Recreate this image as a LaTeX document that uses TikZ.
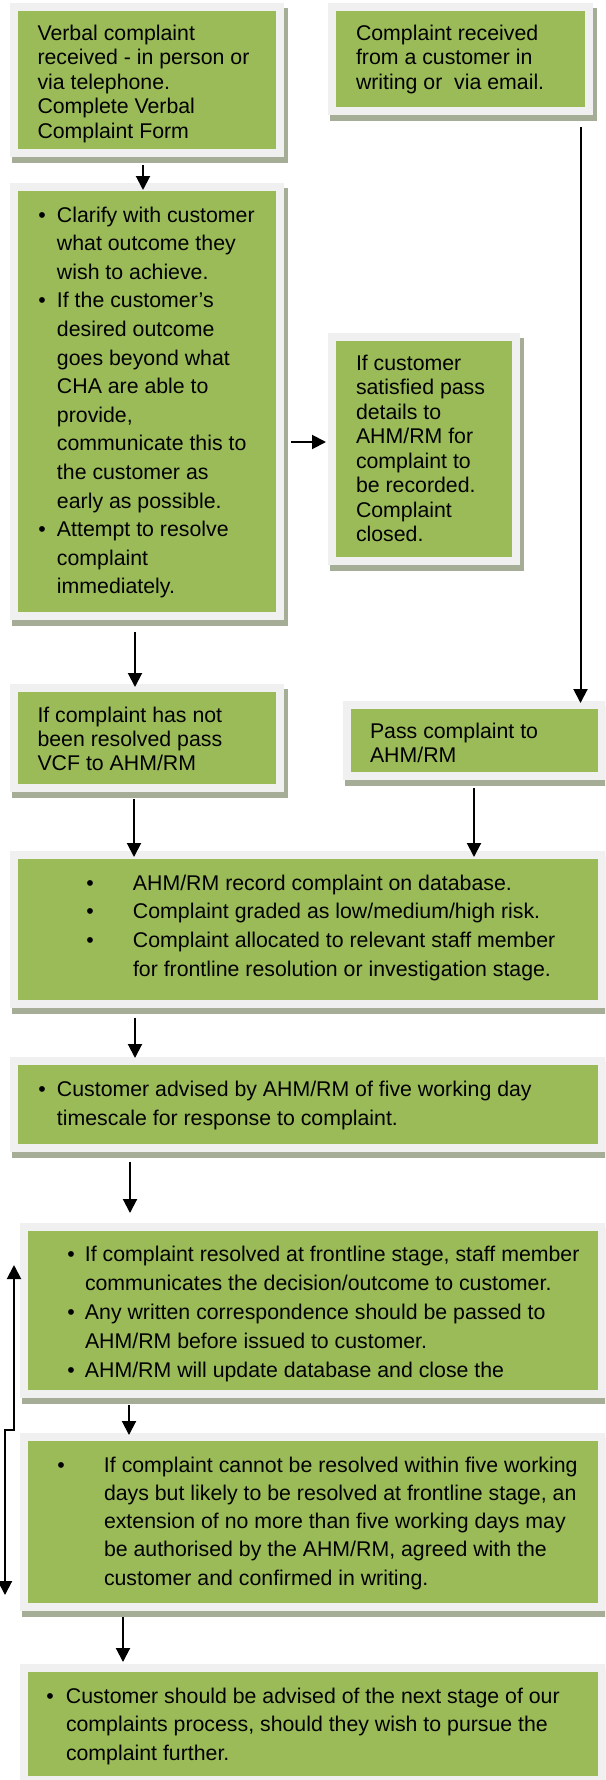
\documentclass[tikz,border=0pt]{standalone}
\usepackage{fontspec}
\setmainfont{Liberation Sans}
\usetikzlibrary{arrows.meta,calc}
\definecolor{boxgreen}{HTML}{9BBB59}
\definecolor{framegrey}{HTML}{F0F0F0}
\definecolor{shc}{HTML}{A5AD96}
\tikzset{
  framebox/.style={rectangle, fill=boxgreen, draw=framegrey, line width=8pt, inner sep=0pt, outer sep=0pt},
  txt/.style={anchor=base west, inner sep=0pt, outer sep=0pt, text=black},
  arr/.style={line width=2pt, -{Triangle[width=14pt,length=14pt]}},
  twoway/.style={line width=2pt, {Triangle[width=14pt,length=14pt]}-{Triangle[width=14pt,length=14pt]}},
}
\newcommand\fsa{\fontsize{21.3}{24.5}\selectfont}
\newcommand\fsb{\fontsize{21.3}{28.6}\selectfont}
\newcommand\bul[2]{\par\noindent\hangindent=#1pt\hangafter=1\makebox[#1pt][l]{\textbullet}#2}
\newcommand\flowbox[5]{%
  \fill[shc] (#2+2,#3+5) rectangle (#4+4,#5+6);
  \node[framebox, minimum width={#4-#2-8}, minimum height={#5-#3-8}] (#1) at ({(#2+#4)/2},{(#3+#5)/2}) {};
}
\begin{document}
\begin{tikzpicture}[x=1pt,y=-1pt]
\useasboundingbox (0,0) rectangle (605,1780);
\clip (0,0) rectangle (605,1780);
\fill[white] (0,0) rectangle (605,1780);

% boxes
\flowbox{b1}{10}{3}{284}{157}
\flowbox{b2}{328}{3}{593}{115}
\flowbox{b3}{10}{183}{284}{620}
\flowbox{b4}{328}{333}{520}{565}
\flowbox{b5}{10}{684}{284}{792}
\flowbox{b6}{343}{701}{606}{780}
\flowbox{b7}{10}{851}{606}{1008}
\flowbox{b8}{10}{1057}{606}{1152}
\flowbox{b9}{20}{1223}{606}{1398}
\flowbox{b10}{20}{1433}{606}{1611}
\flowbox{b11}{20}{1664}{606}{1784}

% texts
\node[txt] (t1) at (37.5,40) {\parbox[t]{240pt}{\fsa Verbal complaint\\received - in person or\\via telephone.\\Complete Verbal\\Complaint Form\par}};
\node[txt] (t2) at (356,40) {\parbox[t]{230pt}{\fsa Complaint received\\from a customer in\\writing or\ \ via email.\par}};
\node[txt] (t3) at (38.3,222) {\parbox[t]{240pt}{\fsb
  \bul{18.7}{Clarify with customer\\what outcome they\\wish to achieve.}
  \bul{18.7}{If the customer’s\\desired outcome\\goes beyond what\\CHA are able to\\provide,\\communicate this to\\the customer as\\early as possible.}
  \bul{18.7}{Attempt to resolve\\complaint\\immediately.}\par}};
\node[txt] (t4) at (356,370) {\parbox[t]{200pt}{\fsa If customer\\satisfied pass\\details to\\AHM/RM for\\complaint to\\be recorded.\\Complaint\\closed.\par}};
\node[txt] (t5) at (37.5,722) {\parbox[t]{240pt}{\fontsize{21.3}{24}\selectfont If complaint has not\\been resolved pass\\VCF to AHM/RM\par}};
\node[txt] (t6) at (370,738) {\parbox[t]{230pt}{\fsa Pass complaint to\\AHM/RM\par}};
\node[txt] (t7) at (86.3,890) {\parbox[t]{510pt}{\fontsize{21.3}{28.8}\selectfont
  \bul{46.7}{AHM/RM record complaint on database.}
  \bul{46.7}{Complaint graded as low/medium/high risk.}
  \bul{46.7}{Complaint allocated to relevant staff member\\for frontline resolution or investigation stage.}\par}};
\node[txt] (t8) at (38.3,1096) {\parbox[t]{550pt}{\fontsize{21.3}{29}\selectfont
  \bul{18.7}{Customer advised by AHM/RM of five working day\\timescale for response to complaint.}\par}};
\node[txt] (t9) at (67.3,1261) {\parbox[t]{530pt}{\fontsize{21.3}{29}\selectfont
  \bul{17.7}{If complaint resolved at frontline stage, staff member\\communicates the decision/outcome to customer.}
  \bul{17.7}{Any written correspondence should be passed to\\AHM/RM before issued to customer.}
  \bul{17.7}{AHM/RM will update database and close the}\par}};
\node[txt] (t10) at (57.3,1472) {\parbox[t]{540pt}{\fontsize{21.3}{28.3}\selectfont
  \bul{46.7}{If complaint cannot be resolved within five working\\days but likely to be resolved at frontline stage, an\\extension of no more than five working days may\\be authorised by the AHM/RM, agreed with the\\customer and confirmed in writing.}\par}};
\node[txt] (t11) at (46.3,1703) {\parbox[t]{550pt}{\fontsize{21.3}{28.5}\selectfont
  \bul{19.7}{Customer should be advised of the next stage of our\\complaints process, should they wish to pursue the\\complaint further.}\par}};

% connectors
\draw[arr] ($(b1.south)+(-4,12)$) -- ($(b3.north)+(-4,3)$);
\draw[arr] ($(b3.east |- b4.west)+(11,-7)$) -- ($(b4.west)+(-6,-7)$);
\draw[arr] ($(b2.south)+(120,16)$) -- ($(b6.north)+(106,-2)$);
\draw[arr] ($(b3.south)+(-12,16)$) -- ($(b5.north)+(-12,-1)$);
\draw[arr] ($(b5.south)+(-13,11)$) -- ($(b5.south |- b7.north)+(-13,2)$);
\draw[arr] ($(b6.south)+(-0.5,12)$) -- ($(b6.south |- b7.north)+(-0.5,2)$);
\draw[arr] ($(b7.south west)+(121,14)$) -- ($(b8.north west)+(121,-3)$);
\draw[arr] ($(b8.south west)+(116,14)$) -- ($(b9.north west)+(106,-14)$);
\draw[arr] ($(b9.south west)+(105,11)$) -- ($(b10.north west)+(105,-2)$);
\draw[arr] ($(b10.south west)+(99,10)$) -- ($(b11.north west)+(99,-6)$);
\draw[twoway] ($(b9.west)+(-10,-45.5)$) -- ++(0,165) -- ++(-9,0) -- ($(b10.west)+(-19,73)$);
\end{tikzpicture}
\end{document}
